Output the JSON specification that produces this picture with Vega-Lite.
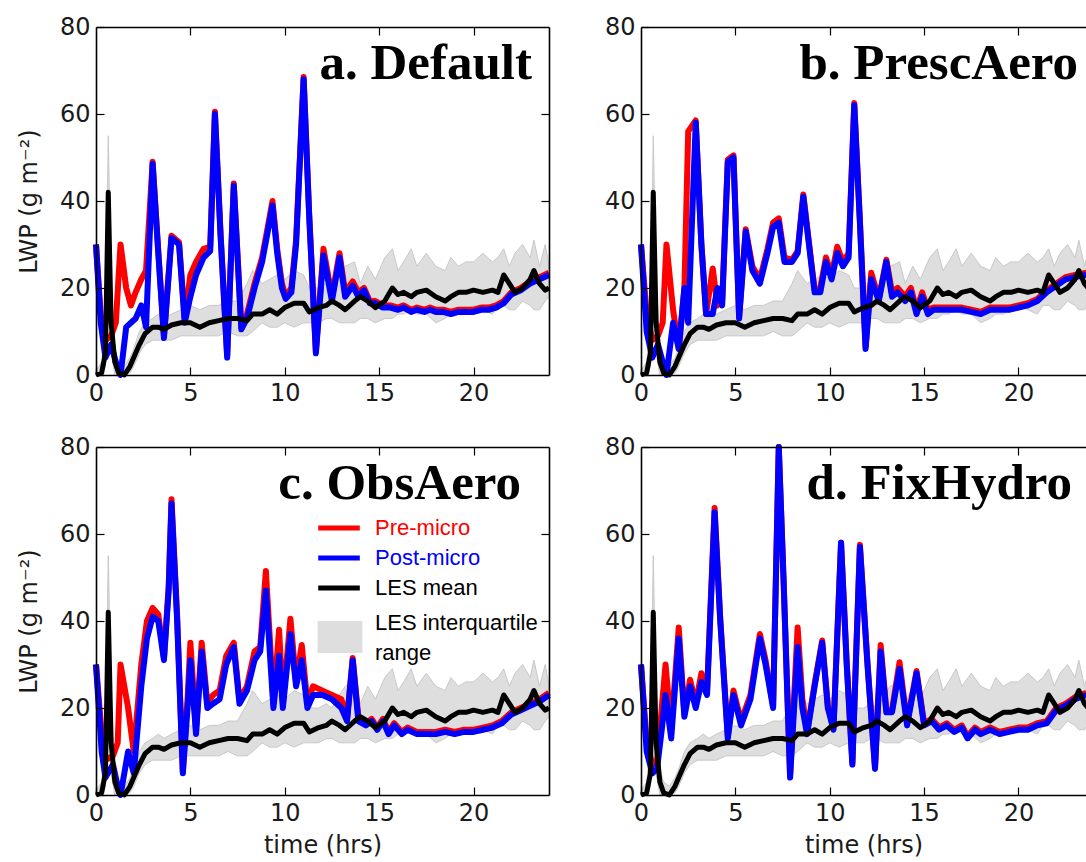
{
  "$schema": "https://vega.github.io/schema/vega-lite/v6.json",
  "padding": {"left": 17, "top": 15, "right": 0, "bottom": 0},
  "background": "white",
  "config": {
    "view": {"stroke": null},
    "axis": {
      "labelFont": "DejaVu Sans", "labelFontSize": 24, "labelColor": "#1a1a1a",
      "titleFont": "DejaVu Sans", "titleFontSize": 24, "titleFontWeight": "normal", "titleColor": "#1a1a1a",
      "tickSize": -8, "tickColor": "#000", "tickWidth": 1.2, "labelPadding": 14,
      "domain": true, "domainColor": "#000", "domainWidth": 1.6, "grid": false,
      "labelFlush": false, "labelOverlap": false, "labelBound": false
    },
    "line": {"strokeJoin": "round", "clip": true},
    "area": {"clip": true}
  },
  "datasets": {
    "les": [
      {"t":0,"mean":0,"lo":0,"hi":1},{"t":0.3,"mean":0.5,"lo":0,"hi":3},{"t":0.5,"mean":5,"lo":2,"hi":12},{"t":0.65,"mean":42,"lo":30,"hi":55},
      {"t":0.8,"mean":12,"lo":5,"hi":22},{"t":1.0,"mean":3,"lo":0,"hi":6},{"t":1.2,"mean":0.5,"lo":0,"hi":3},{"t":1.5,"mean":0,"lo":0,"hi":2},
      {"t":1.8,"mean":2,"lo":0.5,"hi":4},{"t":2.0,"mean":4,"lo":2,"hi":6},{"t":2.3,"mean":7,"lo":5,"hi":10},{"t":2.6,"mean":9.5,"lo":7,"hi":12},
      {"t":3.0,"mean":11,"lo":8,"hi":13},{"t":3.3,"mean":11,"lo":8,"hi":14},{"t":3.6,"mean":10.5,"lo":8,"hi":13},{"t":4.0,"mean":11.5,"lo":8,"hi":14},
      {"t":4.5,"mean":12,"lo":9,"hi":15},{"t":5.0,"mean":12,"lo":9,"hi":16},{"t":5.5,"mean":11,"lo":9,"hi":15},{"t":6.0,"mean":12,"lo":9,"hi":16},
      {"t":6.5,"mean":12.5,"lo":9,"hi":16},{"t":7.0,"mean":13,"lo":10,"hi":17},{"t":7.5,"mean":13,"lo":9,"hi":17},{"t":8.0,"mean":12.5,"lo":9,"hi":21},
      {"t":8.3,"mean":14,"lo":10,"hi":24},{"t":8.8,"mean":14,"lo":12,"hi":21},{"t":9.2,"mean":15,"lo":11,"hi":22},{"t":9.6,"mean":14,"lo":11,"hi":23},
      {"t":10.0,"mean":15.5,"lo":12,"hi":22},{"t":10.5,"mean":16.5,"lo":11,"hi":24},{"t":11.0,"mean":16.5,"lo":12,"hi":23},{"t":11.3,"mean":14.5,"lo":12,"hi":20},
      {"t":11.8,"mean":15.5,"lo":12,"hi":20},{"t":12.2,"mean":16,"lo":13,"hi":21},{"t":12.5,"mean":17,"lo":13,"hi":20},{"t":12.9,"mean":16,"lo":12,"hi":23},
      {"t":13.2,"mean":15,"lo":12,"hi":25},{"t":13.7,"mean":17,"lo":12,"hi":26},{"t":14.0,"mean":18,"lo":13,"hi":21},{"t":14.4,"mean":17,"lo":13,"hi":25},
      {"t":14.8,"mean":15.5,"lo":12,"hi":22},{"t":15.3,"mean":17,"lo":13,"hi":27},{"t":15.7,"mean":20,"lo":13,"hi":29},{"t":16.0,"mean":18.5,"lo":14,"hi":24},
      {"t":16.3,"mean":19,"lo":14,"hi":26},{"t":16.7,"mean":18,"lo":15,"hi":29},{"t":17.0,"mean":19,"lo":14,"hi":25},{"t":17.5,"mean":19.5,"lo":14,"hi":28},
      {"t":18.0,"mean":18,"lo":12,"hi":25},{"t":18.5,"mean":17,"lo":13,"hi":24},{"t":18.8,"mean":18,"lo":14,"hi":27},{"t":19.2,"mean":19,"lo":14,"hi":25},
      {"t":19.6,"mean":19,"lo":15,"hi":26},{"t":20.0,"mean":19.5,"lo":16,"hi":26},{"t":20.5,"mean":19,"lo":15,"hi":28},{"t":21.0,"mean":19.5,"lo":14,"hi":26},
      {"t":21.3,"mean":19,"lo":16,"hi":27},{"t":21.6,"mean":23,"lo":16,"hi":29},{"t":21.9,"mean":21,"lo":15,"hi":25},{"t":22.2,"mean":19,"lo":15,"hi":28},
      {"t":22.6,"mean":20,"lo":17,"hi":30},{"t":23.0,"mean":22,"lo":16,"hi":27},{"t":23.2,"mean":24,"lo":15,"hi":31},{"t":23.5,"mean":21,"lo":15,"hi":25},
      {"t":23.8,"mean":19.5,"lo":17,"hi":30},{"t":24.0,"mean":20,"lo":18,"hi":25}
    ],
    "model": [
      {"p":"a","t":0,"post":30,"pre":30},{"p":"a","t":0.25,"post":12,"pre":14},{"p":"a","t":0.5,"post":4,"pre":8},{"p":"a","t":0.8,"post":7,"pre":9},
      {"p":"a","t":1.05,"post":3,"pre":12},{"p":"a","t":1.3,"post":0,"pre":30},{"p":"a","t":1.6,"post":11,"pre":20},{"p":"a","t":1.85,"post":12,"pre":16},
      {"p":"a","t":2.1,"post":13,"pre":19},{"p":"a","t":2.4,"post":16,"pre":22},{"p":"a","t":2.65,"post":11,"pre":24},{"p":"a","t":3.0,"post":48.5,"pre":49},
      {"p":"a","t":3.3,"post":28,"pre":28.5},{"p":"a","t":3.6,"post":8.5,"pre":9},{"p":"a","t":4.0,"post":31.5,"pre":32},{"p":"a","t":4.4,"post":30,"pre":30.5},
      {"p":"a","t":4.7,"post":12,"pre":13},{"p":"a","t":5.0,"post":18,"pre":23},{"p":"a","t":5.3,"post":23,"pre":26},{"p":"a","t":5.7,"post":27,"pre":29},
      {"p":"a","t":6.05,"post":28.5,"pre":29.5},{"p":"a","t":6.3,"post":60,"pre":60.5},{"p":"a","t":6.6,"post":32,"pre":32.5},{"p":"a","t":6.95,"post":4,"pre":4.5},
      {"p":"a","t":7.3,"post":43.5,"pre":44},{"p":"a","t":7.7,"post":10.5,"pre":11},{"p":"a","t":8.0,"post":13,"pre":14},{"p":"a","t":8.4,"post":20,"pre":21},
      {"p":"a","t":8.8,"post":26,"pre":27},{"p":"a","t":9.1,"post":33,"pre":34},{"p":"a","t":9.35,"post":39,"pre":40},{"p":"a","t":9.6,"post":28,"pre":29},
      {"p":"a","t":9.85,"post":20,"pre":21},{"p":"a","t":10.05,"post":17.5,"pre":18},{"p":"a","t":10.35,"post":19,"pre":20},{"p":"a","t":10.6,"post":30,"pre":31},
      {"p":"a","t":11.0,"post":68,"pre":68.5},{"p":"a","t":11.3,"post":36,"pre":36.5},{"p":"a","t":11.65,"post":5,"pre":5.5},{"p":"a","t":12.05,"post":27.5,"pre":29},
      {"p":"a","t":12.5,"post":17,"pre":18},{"p":"a","t":12.9,"post":27,"pre":28},{"p":"a","t":13.2,"post":18,"pre":19},{"p":"a","t":13.6,"post":20.5,"pre":21.5},
      {"p":"a","t":13.9,"post":18,"pre":19},{"p":"a","t":14.2,"post":19.5,"pre":20},{"p":"a","t":14.5,"post":16.5,"pre":17},{"p":"a","t":14.8,"post":16.5,"pre":17},
      {"p":"a","t":15.2,"post":15.5,"pre":16},{"p":"a","t":15.6,"post":15.5,"pre":16},{"p":"a","t":16.0,"post":15,"pre":15.5},{"p":"a","t":16.3,"post":15.5,"pre":16},
      {"p":"a","t":16.7,"post":14.5,"pre":15},{"p":"a","t":17.0,"post":15,"pre":15.5},{"p":"a","t":17.4,"post":14.5,"pre":15},{"p":"a","t":17.7,"post":15,"pre":15.5},
      {"p":"a","t":18.0,"post":14.5,"pre":15},{"p":"a","t":18.4,"post":14.5,"pre":15},{"p":"a","t":18.8,"post":14,"pre":14.5},{"p":"a","t":19.2,"post":14.5,"pre":15},
      {"p":"a","t":19.6,"post":14.5,"pre":15},{"p":"a","t":20.0,"post":14.5,"pre":15},{"p":"a","t":20.4,"post":15,"pre":15.5},{"p":"a","t":20.8,"post":15,"pre":15.5},
      {"p":"a","t":21.2,"post":15.5,"pre":16},{"p":"a","t":21.6,"post":16.5,"pre":17},{"p":"a","t":22.0,"post":18.5,"pre":19},{"p":"a","t":22.5,"post":19.5,"pre":20},
      {"p":"a","t":23.0,"post":21,"pre":21.5},{"p":"a","t":23.5,"post":22,"pre":22.5},{"p":"a","t":24,"post":23,"pre":23.5},

      {"p":"b","t":0,"post":30,"pre":30},{"p":"b","t":0.3,"post":10,"pre":14},{"p":"b","t":0.6,"post":4,"pre":8},{"p":"b","t":0.9,"post":7,"pre":9},
      {"p":"b","t":1.15,"post":3,"pre":12},{"p":"b","t":1.35,"post":0,"pre":30},{"p":"b","t":1.7,"post":12,"pre":15},{"p":"b","t":2.0,"post":6,"pre":6},
      {"p":"b","t":2.3,"post":20,"pre":20},{"p":"b","t":2.5,"post":12,"pre":56},{"p":"b","t":2.9,"post":58,"pre":58.5},{"p":"b","t":3.2,"post":30,"pre":30},
      {"p":"b","t":3.45,"post":14,"pre":14},{"p":"b","t":3.8,"post":14,"pre":24.5},{"p":"b","t":4.05,"post":20,"pre":16},{"p":"b","t":4.3,"post":16,"pre":17},
      {"p":"b","t":4.6,"post":49,"pre":49.5},{"p":"b","t":4.9,"post":50,"pre":50.5},{"p":"b","t":5.2,"post":13,"pre":13.5},{"p":"b","t":5.55,"post":33,"pre":33.5},
      {"p":"b","t":5.9,"post":24,"pre":25},{"p":"b","t":6.3,"post":21,"pre":22},{"p":"b","t":6.7,"post":28,"pre":29},{"p":"b","t":7.0,"post":34,"pre":35},
      {"p":"b","t":7.3,"post":35,"pre":36},{"p":"b","t":7.6,"post":26,"pre":27},{"p":"b","t":8.0,"post":26,"pre":26.5},{"p":"b","t":8.3,"post":28,"pre":28.5},
      {"p":"b","t":8.6,"post":41,"pre":41.5},{"p":"b","t":8.9,"post":30,"pre":30.5},{"p":"b","t":9.2,"post":19,"pre":19.5},{"p":"b","t":9.5,"post":19,"pre":20},
      {"p":"b","t":9.8,"post":26,"pre":27},{"p":"b","t":10.1,"post":22,"pre":23},{"p":"b","t":10.4,"post":28,"pre":29.5},{"p":"b","t":10.7,"post":25,"pre":26},
      {"p":"b","t":11.0,"post":27,"pre":28},{"p":"b","t":11.3,"post":62,"pre":62.5},{"p":"b","t":11.6,"post":35,"pre":35.5},{"p":"b","t":11.9,"post":6,"pre":6.5},
      {"p":"b","t":12.2,"post":22,"pre":23.5},{"p":"b","t":12.6,"post":17,"pre":17.5},{"p":"b","t":13.0,"post":26,"pre":26.5},{"p":"b","t":13.3,"post":18,"pre":19},
      {"p":"b","t":13.6,"post":19,"pre":20},{"p":"b","t":14.0,"post":17,"pre":18},{"p":"b","t":14.3,"post":19,"pre":20},{"p":"b","t":14.6,"post":14,"pre":15},
      {"p":"b","t":14.9,"post":18,"pre":19},{"p":"b","t":15.2,"post":14,"pre":15},{"p":"b","t":15.5,"post":15,"pre":15.5},{"p":"b","t":16.0,"post":15,"pre":15.5},
      {"p":"b","t":16.5,"post":15,"pre":15.5},{"p":"b","t":17.0,"post":15,"pre":15.5},{"p":"b","t":17.5,"post":14.5,"pre":15},{"p":"b","t":18.0,"post":14,"pre":14.5},
      {"p":"b","t":18.5,"post":15,"pre":15.5},{"p":"b","t":19.0,"post":15,"pre":15.5},{"p":"b","t":19.5,"post":15,"pre":15.5},{"p":"b","t":20.0,"post":15.5,"pre":16},
      {"p":"b","t":20.5,"post":16,"pre":16.5},{"p":"b","t":21.0,"post":17,"pre":17.5},{"p":"b","t":21.5,"post":19,"pre":19.5},{"p":"b","t":22.0,"post":20.5,"pre":21},
      {"p":"b","t":22.5,"post":22,"pre":22.5},{"p":"b","t":23.0,"post":22.5,"pre":23},{"p":"b","t":23.6,"post":23,"pre":23.5},

      {"p":"c","t":0,"post":30,"pre":30},{"p":"c","t":0.3,"post":10,"pre":14},{"p":"c","t":0.5,"post":4,"pre":8},{"p":"c","t":0.9,"post":7,"pre":9},
      {"p":"c","t":1.15,"post":2,"pre":12},{"p":"c","t":1.3,"post":0,"pre":30},{"p":"c","t":1.7,"post":10,"pre":20},{"p":"c","t":2.0,"post":5,"pre":10},
      {"p":"c","t":2.4,"post":25,"pre":30},{"p":"c","t":2.7,"post":36,"pre":40},{"p":"c","t":3.0,"post":41,"pre":43},{"p":"c","t":3.3,"post":40,"pre":41.5},
      {"p":"c","t":3.6,"post":31,"pre":31.5},{"p":"c","t":3.85,"post":47,"pre":48},{"p":"c","t":4.0,"post":67,"pre":68},{"p":"c","t":4.3,"post":40,"pre":41},
      {"p":"c","t":4.6,"post":5,"pre":5.5},{"p":"c","t":4.85,"post":20,"pre":22},{"p":"c","t":5.0,"post":31,"pre":35},{"p":"c","t":5.3,"post":14,"pre":15},
      {"p":"c","t":5.6,"post":33,"pre":35},{"p":"c","t":5.9,"post":20,"pre":21},{"p":"c","t":6.2,"post":21,"pre":23},{"p":"c","t":6.55,"post":22,"pre":24},
      {"p":"c","t":6.9,"post":30,"pre":32},{"p":"c","t":7.3,"post":34,"pre":35},{"p":"c","t":7.6,"post":21,"pre":22},{"p":"c","t":8.0,"post":24,"pre":25},
      {"p":"c","t":8.4,"post":31,"pre":33},{"p":"c","t":8.7,"post":33,"pre":34},{"p":"c","t":9.0,"post":47,"pre":51.5},{"p":"c","t":9.25,"post":30,"pre":33},
      {"p":"c","t":9.4,"post":20,"pre":21},{"p":"c","t":9.7,"post":32,"pre":38},{"p":"c","t":9.9,"post":20,"pre":21},{"p":"c","t":10.3,"post":37,"pre":40.5},
      {"p":"c","t":10.6,"post":25,"pre":26},{"p":"c","t":10.9,"post":31,"pre":34.5},{"p":"c","t":11.2,"post":20,"pre":21},{"p":"c","t":11.5,"post":23,"pre":25},
      {"p":"c","t":12.0,"post":23,"pre":24},{"p":"c","t":12.5,"post":22,"pre":23},{"p":"c","t":13.0,"post":20,"pre":22},{"p":"c","t":13.3,"post":17,"pre":17.5},
      {"p":"c","t":13.6,"post":31,"pre":31.5},{"p":"c","t":13.9,"post":17,"pre":18},{"p":"c","t":14.3,"post":16,"pre":16.5},{"p":"c","t":14.6,"post":17,"pre":17.5},
      {"p":"c","t":14.9,"post":15,"pre":15.5},{"p":"c","t":15.2,"post":17,"pre":17.5},{"p":"c","t":15.5,"post":14,"pre":14.5},{"p":"c","t":15.8,"post":16,"pre":16.5},
      {"p":"c","t":16.2,"post":14,"pre":14.5},{"p":"c","t":16.5,"post":15,"pre":15.5},{"p":"c","t":17.0,"post":14,"pre":14.5},{"p":"c","t":17.5,"post":14,"pre":14.5},
      {"p":"c","t":18.0,"post":14,"pre":14.5},{"p":"c","t":18.5,"post":14.5,"pre":15},{"p":"c","t":19.0,"post":14,"pre":14.5},{"p":"c","t":19.5,"post":14.5,"pre":15},
      {"p":"c","t":20.0,"post":14.5,"pre":15},{"p":"c","t":20.5,"post":15,"pre":15.5},{"p":"c","t":21.0,"post":15.5,"pre":16},{"p":"c","t":21.5,"post":16.5,"pre":17},
      {"p":"c","t":22.0,"post":18.5,"pre":19},{"p":"c","t":22.5,"post":19.5,"pre":20},{"p":"c","t":23.0,"post":20.5,"pre":21},{"p":"c","t":23.5,"post":21.5,"pre":22},
      {"p":"c","t":24,"post":23,"pre":23.5},

      {"p":"d","t":0,"post":30,"pre":30},{"p":"d","t":0.3,"post":10,"pre":12},{"p":"d","t":0.6,"post":5,"pre":7},{"p":"d","t":0.85,"post":6,"pre":8},
      {"p":"d","t":1.1,"post":15,"pre":20},{"p":"d","t":1.3,"post":23,"pre":30},{"p":"d","t":1.6,"post":13,"pre":15},{"p":"d","t":2.0,"post":36,"pre":38.5},
      {"p":"d","t":2.3,"post":18,"pre":18.5},{"p":"d","t":2.6,"post":25,"pre":26.5},{"p":"d","t":2.9,"post":20,"pre":21},{"p":"d","t":3.2,"post":26,"pre":28},
      {"p":"d","t":3.5,"post":23,"pre":24},{"p":"d","t":3.9,"post":65,"pre":66},{"p":"d","t":4.2,"post":40,"pre":40.5},{"p":"d","t":4.6,"post":13,"pre":13.5},
      {"p":"d","t":4.9,"post":23,"pre":24},{"p":"d","t":5.3,"post":16,"pre":17},{"p":"d","t":5.8,"post":22,"pre":23},{"p":"d","t":6.3,"post":36,"pre":37},
      {"p":"d","t":6.6,"post":30,"pre":31},{"p":"d","t":7.0,"post":20,"pre":20.5},{"p":"d","t":7.3,"post":80,"pre":80},{"p":"d","t":7.55,"post":50,"pre":50},
      {"p":"d","t":7.9,"post":4,"pre":4.5},{"p":"d","t":8.3,"post":34,"pre":38.5},{"p":"d","t":8.55,"post":20,"pre":22},{"p":"d","t":8.8,"post":14,"pre":14.5},
      {"p":"d","t":9.2,"post":25,"pre":25.5},{"p":"d","t":9.6,"post":35,"pre":35.5},{"p":"d","t":9.9,"post":20,"pre":20.5},{"p":"d","t":10.2,"post":15,"pre":15.5},
      {"p":"d","t":10.6,"post":58,"pre":58},{"p":"d","t":10.9,"post":30,"pre":30.5},{"p":"d","t":11.2,"post":7,"pre":7.5},{"p":"d","t":11.6,"post":57,"pre":57.5},
      {"p":"d","t":12.0,"post":30,"pre":30.5},{"p":"d","t":12.4,"post":6,"pre":6.5},{"p":"d","t":12.7,"post":33,"pre":34.5},{"p":"d","t":13.0,"post":19,"pre":19.5},
      {"p":"d","t":13.3,"post":19,"pre":19.5},{"p":"d","t":13.7,"post":29,"pre":30.5},{"p":"d","t":14.1,"post":16,"pre":16.5},{"p":"d","t":14.6,"post":28,"pre":28.5},
      {"p":"d","t":15.0,"post":16,"pre":16.5},{"p":"d","t":15.4,"post":17,"pre":17.5},{"p":"d","t":15.8,"post":15,"pre":15.5},{"p":"d","t":16.2,"post":16,"pre":16.5},
      {"p":"d","t":16.6,"post":14.5,"pre":15},{"p":"d","t":17.0,"post":15.5,"pre":16},{"p":"d","t":17.3,"post":13,"pre":13.5},{"p":"d","t":17.7,"post":15,"pre":15.5},
      {"p":"d","t":18.0,"post":14,"pre":14.5},{"p":"d","t":18.5,"post":15,"pre":15.5},{"p":"d","t":19.0,"post":14,"pre":14.5},{"p":"d","t":19.5,"post":14.5,"pre":15},
      {"p":"d","t":20.0,"post":15,"pre":15.5},{"p":"d","t":20.5,"post":15,"pre":15.5},{"p":"d","t":21.0,"post":16,"pre":16.5},{"p":"d","t":21.5,"post":16.5,"pre":17},
      {"p":"d","t":22.0,"post":19.5,"pre":20},{"p":"d","t":22.5,"post":20.5,"pre":21},{"p":"d","t":23.0,"post":22,"pre":22.5},{"p":"d","t":23.6,"post":23,"pre":23.5}
    ]
  },
  "resolve": {"scale": {"stroke": "independent", "fill": "independent"}, "legend": {"stroke": "independent", "fill": "independent"}},
  "spacing": 30,
  "vconcat": [
    {
      "spacing": 52,
      "resolve": {"scale": {"stroke": "independent", "fill": "independent"}, "legend": {"stroke": "independent", "fill": "independent"}},
      "hconcat": [
        {
          "width": 453, "height": 348,
          "layer": [
            {"data": {"name": "les"}, "mark": {"type": "area", "fill": "#dedede", "stroke": "#c8c8c8", "strokeWidth": 1},
             "encoding": {
               "x": {"field": "t", "type": "quantitative", "scale": {"domain": [0, 24], "nice": false, "zero": false}, "axis": {"orient": "bottom", "values": [0, 5, 10, 15, 20], "title": null, "domain": true, "zindex": 1}},
               "y": {"field": "lo", "type": "quantitative", "scale": {"domain": [0, 80], "nice": false}, "axis": {"orient": "left", "values": [0, 20, 40, 60, 80], "title": "LWP (g m⁻²)", "titlePadding": 18, "domain": true, "zindex": 1}},
               "y2": {"field": "hi"}}},
            {"data": {"name": "model"}, "transform": [{"filter": "datum.p == 'a'"}], "mark": {"type": "line", "stroke": "#ff0000", "strokeWidth": 6},
             "encoding": {
               "x": {"field": "t", "type": "quantitative", "axis": {"orient": "top", "values": [5, 10, 15, 20], "labels": false, "title": null, "domain": true, "zindex": 1}},
               "y": {"field": "pre", "type": "quantitative", "axis": {"orient": "right", "values": [20, 40, 60], "labels": false, "title": null, "domain": true, "zindex": 1}}}},
            {"data": {"name": "model"}, "transform": [{"filter": "datum.p == 'a'"}], "mark": {"type": "line", "stroke": "#0000ff", "strokeWidth": 6},
             "encoding": {"x": {"field": "t", "type": "quantitative", "axis": null}, "y": {"field": "post", "type": "quantitative", "axis": null}}},
            {"data": {"name": "les"}, "mark": {"type": "line", "stroke": "#000000", "strokeWidth": 5},
             "encoding": {"x": {"field": "t", "type": "quantitative", "axis": null}, "y": {"field": "mean", "type": "quantitative", "axis": null}}},
            {"data": {"values": [{"label": "a. Default"}]}, "mark": {"type": "text", "font": "Liberation Serif", "fontWeight": "bold", "fontSize": 51, "align": "right", "baseline": "alphabetic", "dx": -17, "color": "#000"},
             "encoding": {"x": {"datum": 24, "type": "quantitative", "axis": null}, "y": {"datum": 68, "type": "quantitative", "axis": null}, "text": {"field": "label"}}}
          ]
        },
        {
          "width": 445, "height": 348,
          "layer": [
            {"data": {"name": "les"}, "mark": {"type": "area", "fill": "#dedede", "stroke": "#c8c8c8", "strokeWidth": 1},
             "encoding": {
               "x": {"field": "t", "type": "quantitative", "scale": {"domain": [0, 23.58], "nice": false, "zero": false}, "axis": {"orient": "bottom", "values": [0, 5, 10, 15, 20], "title": null, "domain": true, "zindex": 1}},
               "y": {"field": "lo", "type": "quantitative", "scale": {"domain": [0, 80], "nice": false}, "axis": {"orient": "left", "values": [0, 20, 40, 60, 80], "title": null, "domain": true, "zindex": 1}},
               "y2": {"field": "hi"}}},
            {"data": {"name": "model"}, "transform": [{"filter": "datum.p == 'b'"}], "mark": {"type": "line", "stroke": "#ff0000", "strokeWidth": 6},
             "encoding": {
               "x": {"field": "t", "type": "quantitative", "axis": {"orient": "top", "values": [5, 10, 15, 20], "labels": false, "title": null, "domain": true, "zindex": 1}},
               "y": {"field": "pre", "type": "quantitative", "axis": {"orient": "right", "labels": false, "ticks": false, "domain": false, "title": null}}}},
            {"data": {"name": "model"}, "transform": [{"filter": "datum.p == 'b'"}], "mark": {"type": "line", "stroke": "#0000ff", "strokeWidth": 6},
             "encoding": {"x": {"field": "t", "type": "quantitative", "axis": null}, "y": {"field": "post", "type": "quantitative", "axis": null}}},
            {"data": {"name": "les"}, "mark": {"type": "line", "stroke": "#000000", "strokeWidth": 5},
             "encoding": {"x": {"field": "t", "type": "quantitative", "axis": null}, "y": {"field": "mean", "type": "quantitative", "axis": null}}},
            {"data": {"values": [{"label": "b. PrescAero"}]}, "mark": {"type": "text", "font": "Liberation Serif", "fontWeight": "bold", "fontSize": 51, "align": "right", "baseline": "alphabetic", "dx": -8, "color": "#000"},
             "encoding": {"x": {"datum": 23.58, "type": "quantitative", "axis": null}, "y": {"datum": 68, "type": "quantitative", "axis": null}, "text": {"field": "label"}}}
          ]
        }
      ]
    },
    {
      "spacing": 52,
      "resolve": {"scale": {"stroke": "independent", "fill": "independent"}, "legend": {"stroke": "independent", "fill": "independent"}},
      "hconcat": [
        {
          "width": 453, "height": 348,
          "layer": [
            {"data": {"name": "les"}, "mark": {"type": "area", "stroke": "#c8c8c8", "strokeWidth": 1},
             "encoding": {
               "x": {"field": "t", "type": "quantitative", "scale": {"domain": [0, 24], "nice": false, "zero": false}, "axis": {"orient": "bottom", "values": [0, 5, 10, 15, 20], "title": "time (hrs)", "titlePadding": 8, "domain": true, "zindex": 1}},
               "y": {"field": "lo", "type": "quantitative", "scale": {"domain": [0, 80], "nice": false}, "axis": {"orient": "left", "values": [0, 20, 40, 60, 80], "title": "LWP (g m⁻²)", "titlePadding": 18, "domain": true, "zindex": 1}},
               "y2": {"field": "hi"},
               "fill": {"datum": "LES interquartile range", "type": "nominal", "scale": {"domain": ["LES interquartile range"], "range": ["#dedede"]},
                 "legend": {"orient": "none", "legendX": 228, "legendY": 174, "title": null, "padding": 0,
                   "symbolType": "M-1.4,-1H1.4V1H-1.4Z", "symbolSize": 1024, "symbolStrokeWidth": 0, "symbolOpacity": 1,
                   "labelFont": "Liberation Sans", "labelFontSize": 22, "labelColor": "#000", "labelOffset": 19, "labelLimit": 0,
                   "labelExpr": "datum.label == 'LES interquartile range' ? ['LES interquartile', 'range'] : datum.label",
                   "encoding": {"labels": {"lineHeight": {"value": 30}, "dy": {"value": -14}}}}}}},
            {"data": {"name": "model"}, "transform": [{"filter": "datum.p == 'c'"}], "mark": {"type": "line", "strokeWidth": 6},
             "encoding": {
               "x": {"field": "t", "type": "quantitative", "axis": {"orient": "top", "values": [5, 10, 15, 20], "labels": false, "title": null, "domain": true, "zindex": 1}},
               "y": {"field": "pre", "type": "quantitative", "axis": {"orient": "right", "values": [20, 40, 60], "labels": false, "title": null, "domain": true, "zindex": 1}},
               "stroke": {"datum": "Pre-micro", "type": "nominal", "scale": {"domain": ["Pre-micro", "Post-micro", "LES mean"], "range": ["#ff0000", "#0000ff", "#000000"]},
                 "legend": {"orient": "none", "legendX": 232, "legendY": 70, "title": null, "padding": 0,
                   "symbolType": "M-2.6,0H2.6", "symbolSize": 256, "symbolStrokeWidth": 5,
                   "labelFont": "Liberation Sans", "labelFontSize": 22, "labelOffset": 25, "rowPadding": 8, "labelLimit": 0,
                   "encoding": {"labels": {"fill": {"condition": [{"test": "datum.label == 'Pre-micro'", "value": "#ff0000"}, {"test": "datum.label == 'Post-micro'", "value": "#0000ff"}], "value": "#000000"}}}}}}},
            {"data": {"name": "model"}, "transform": [{"filter": "datum.p == 'c'"}], "mark": {"type": "line", "strokeWidth": 6},
             "encoding": {"x": {"field": "t", "type": "quantitative", "axis": null}, "y": {"field": "post", "type": "quantitative", "axis": null},
               "stroke": {"datum": "Post-micro", "type": "nominal"}}},
            {"data": {"name": "les"}, "mark": {"type": "line", "strokeWidth": 5},
             "encoding": {"x": {"field": "t", "type": "quantitative", "axis": null}, "y": {"field": "mean", "type": "quantitative", "axis": null},
               "stroke": {"datum": "LES mean", "type": "nominal"}}},
            {"data": {"values": [{"label": "c. ObsAero"}]}, "mark": {"type": "text", "font": "Liberation Serif", "fontWeight": "bold", "fontSize": 51, "align": "right", "baseline": "alphabetic", "dx": -28, "color": "#000"},
             "encoding": {"x": {"datum": 24, "type": "quantitative", "axis": null}, "y": {"datum": 68, "type": "quantitative", "axis": null}, "text": {"field": "label"}}}
          ]
        },
        {
          "width": 445, "height": 348,
          "layer": [
            {"data": {"name": "les"}, "mark": {"type": "area", "fill": "#dedede", "stroke": "#c8c8c8", "strokeWidth": 1},
             "encoding": {
               "x": {"field": "t", "type": "quantitative", "scale": {"domain": [0, 23.58], "nice": false, "zero": false}, "axis": {"orient": "bottom", "values": [0, 5, 10, 15, 20], "title": "time (hrs)", "titlePadding": 8, "domain": true, "zindex": 1}},
               "y": {"field": "lo", "type": "quantitative", "scale": {"domain": [0, 80], "nice": false}, "axis": {"orient": "left", "values": [0, 20, 40, 60, 80], "title": null, "domain": true, "zindex": 1}},
               "y2": {"field": "hi"}}},
            {"data": {"name": "model"}, "transform": [{"filter": "datum.p == 'd'"}], "mark": {"type": "line", "stroke": "#ff0000", "strokeWidth": 6},
             "encoding": {
               "x": {"field": "t", "type": "quantitative", "axis": {"orient": "top", "values": [5, 10, 15, 20], "labels": false, "title": null, "domain": true, "zindex": 1}},
               "y": {"field": "pre", "type": "quantitative", "axis": {"orient": "right", "labels": false, "ticks": false, "domain": false, "title": null}}}},
            {"data": {"name": "model"}, "transform": [{"filter": "datum.p == 'd'"}], "mark": {"type": "line", "stroke": "#0000ff", "strokeWidth": 6},
             "encoding": {"x": {"field": "t", "type": "quantitative", "axis": null}, "y": {"field": "post", "type": "quantitative", "axis": null}}},
            {"data": {"name": "les"}, "mark": {"type": "line", "stroke": "#000000", "strokeWidth": 5},
             "encoding": {"x": {"field": "t", "type": "quantitative", "axis": null}, "y": {"field": "mean", "type": "quantitative", "axis": null}}},
            {"data": {"values": [{"label": "d. FixHydro"}]}, "mark": {"type": "text", "font": "Liberation Serif", "fontWeight": "bold", "fontSize": 51, "align": "right", "baseline": "alphabetic", "dx": -14, "color": "#000"},
             "encoding": {"x": {"datum": 23.58, "type": "quantitative", "axis": null}, "y": {"datum": 68, "type": "quantitative", "axis": null}, "text": {"field": "label"}}}
          ]
        }
      ]
    }
  ]
}
